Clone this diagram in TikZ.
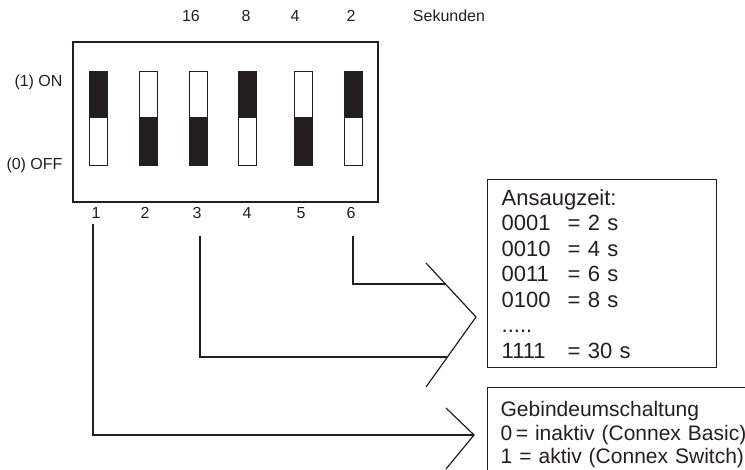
\documentclass[tikz,border=0pt]{standalone}
\usepackage{fontspec}
\setmainfont{Liberation Sans}
\usepackage{tikz}

\definecolor{ink}{RGB}{35,31,32}

\begin{document}
\begin{tikzpicture}[x=1pt,y=-1pt,line width=1pt,color=ink,
  lbl/.style={inner sep=0pt,font=\fontsize{16}{19}\selectfont},
  infobox/.style={draw,line width=1.3pt,anchor=north west,align=left}]
\useasboundingbox (0,0) rectangle (745,469);

\draw [line width=1.2pt](73,42) rectangle (378,202);

\draw [fill=ink](89,71) rectangle (107,117);
\draw (89,117) rectangle (107,165);
\draw (139,71) rectangle (157,117);
\draw [fill=ink](139,117) rectangle (157,165);
\draw (189,71) rectangle (207,117);
\draw [fill=ink](189,117) rectangle (207,165);
\draw [fill=ink](238,71) rectangle (256,117);
\draw (238,117) rectangle (256,165);
\draw (294,71) rectangle (312,117);
\draw [fill=ink](294,117) rectangle (312,165);
\draw [fill=ink](344,71) rectangle (362,117);
\draw (344,117) rectangle (362,165);

\node [lbl] (w16) at (191,16) {16};
\node [lbl] (w8) at (246,16) {8};
\node [lbl] (w4) at (295,16) {4};
\node [lbl] (w2) at (351,16) {2};
\node [lbl] (sek) at (449,16) {Sekunden};
\node [lbl,anchor=east] (on) at (63,82) {(1) ON};
\node [lbl,anchor=east] (off) at (63,165) {(0) OFF};

\node [lbl] (n1) at (96,213) {1};
\node [lbl] (n2) at (145,213) {2};
\node [lbl] (n3) at (197,213) {3};
\node [lbl] (n4) at (247,213) {4};
\node [lbl] (n5) at (301,213) {5};
\node [lbl] (n6) at (351,213) {6};

\coordinate (ua) at (426,263);
\coordinate (utip) at (476,317);
\coordinate (ub) at (426,387);
\coordinate (e6) at (445.5,284);
\coordinate (e3) at (447.4,357);
\draw [line width=1.2pt](ua)--(utip)--(ub);
\coordinate (la) at (446,408);
\coordinate (ltip) at (474,435);
\coordinate (lb) at (446,469);
\draw [line width=1.2pt](la)--(ltip)--(lb);

\draw [line width=1.2pt,shorten <=17pt] ([xshift=2pt]n6.south) |- (e6);
\draw [line width=1.2pt,shorten <=17pt] ([xshift=3pt]n3.south) |- (e3);
\draw [line width=1.2pt,shorten <=5pt] ([xshift=-3pt]n1.south) |- (ltip);

\node [infobox,minimum width=229pt,minimum height=188pt,inner xsep=14pt,text width=201pt,
  font=\fontsize{22}{25.5}\selectfont] (ans) at (487,179) {Ansaugzeit:\\
\makebox[66pt][l]{0001}= 2 s\\
\makebox[66pt][l]{0010}= 4 s\\
\makebox[66pt][l]{0011}= 6 s\\
\makebox[66pt][l]{0100}= 8 s\\
.....\\
\makebox[66pt][l]{1111}= 30 s};

\node [infobox,inner xsep=13pt,inner ysep=14pt,text width=320pt,
  font=\fontsize{21}{23.5}\selectfont] (geb) at (487,387) {Gebindeumschaltung\\
0\,= inaktiv (Connex Basic)\\
1 = aktiv (Connex Switch)};

\end{tikzpicture}
\end{document}
